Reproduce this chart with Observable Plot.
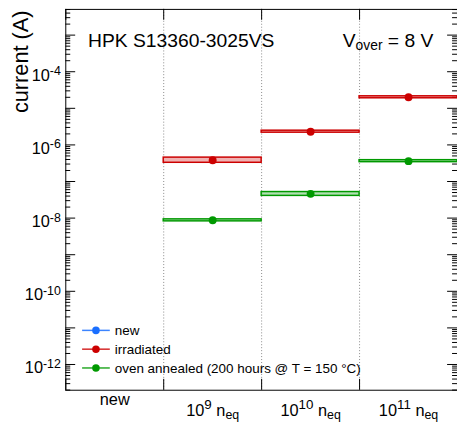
<!DOCTYPE html>
<html>
<head>
<meta charset="utf-8">
<script src="https://cdn.jsdelivr.net/npm/d3@7"></script>
<script src="https://cdn.jsdelivr.net/npm/@observablehq/plot@0.6"></script>
<style>
  html, body { margin: 0; padding: 0; background: #fff; overflow: hidden; }
  #wrap { position: relative; width: 457px; height: 422px; overflow: hidden; }
  svg text { white-space: pre; }
</style>
</head>
<body>
<div id="wrap"></div>
<script>
// ---------- data ----------
const categories = ["new", "10^{9} n_{eq}", "10^{10} n_{eq}", "10^{11} n_{eq}"];
const seriesNames = ["new", "irradiated", "oven annealed (200 hours @ T = 150 °C)"];
const seriesColors = ["#1a6fff", "#cc0000", "#009900"];

const irradiatedCategories = ["10^{9} n_{eq}", "10^{10} n_{eq}", "10^{11} n_{eq}"];
const irradiatedValues = [3.8e-7, 2.3e-6, 2.0e-5];
const irradiatedLow    = [3.25e-7, 2.16e-6, 1.88e-5];
const irradiatedHigh   = [4.5e-7, 2.45e-6, 2.13e-5];

const annealedCategories = ["10^{9} n_{eq}", "10^{10} n_{eq}", "10^{11} n_{eq}"];
const annealedValues = [8.7e-9, 4.6e-8, 3.6e-7];
const annealedLow    = [8.15e-9, 4.05e-8, 3.38e-7];
const annealedHigh   = [9.25e-9, 5.15e-8, 3.83e-7];

const yTickExponents = [-12, -10, -8, -6, -4];
const titleText = "HPK S13360-3025VS";
const voltageText = "V_{over} = 8 V";
const yAxisTitle = "current (A)";

// ---------- layout ----------
const FONT = "'Liberation Sans', Arial, Helvetica, sans-serif";
const W = 462, H = 422, mL = 66, mR = 0, mT = 9, mB = 28;
const plotW = W - mL - mR, plotH = H - mT - mB;
const yDomain = [10 ** -12.703, 10 ** -2.297];
const inDomain = v => v >= yDomain[0] && v <= yDomain[1];
const majorTicks = d3.range(-13, -1).map(e => 10 ** e).filter(inDomain);
const minorTicks = d3.range(-13, -1).flatMap(e => d3.range(2, 10).map(m => m * 10 ** e)).filter(inDomain);

function buildRows(cats, vals, lows, highs, color) {
  return cats.map((c, k) => ({i: categories.indexOf(c), v: vals[k], lo: lows[k], hi: highs[k], color}));
}
const rows = [
  ...buildRows(irradiatedCategories, irradiatedValues, irradiatedLow, irradiatedHigh, seriesColors[1]),
  ...buildRows(annealedCategories, annealedValues, annealedLow, annealedHigh, seriesColors[2])
];
const edges = d3.range(0, categories.length + 1);

const plot = Plot.plot({
  width: W, height: H,
  marginLeft: mL, marginRight: mR, marginTop: mT, marginBottom: mB,
  style: {fontFamily: FONT, background: "#fff", color: "#000", overflow: "visible"},
  x: {type: "linear", domain: [0, categories.length], axis: null},
  y: {type: "log", domain: yDomain, axis: null},
  color: {type: "identity"},
  marks: [
    Plot.ruleX(edges.slice(1, -1), {x: d => d, stroke: "#8a8a8a", strokeDasharray: "1,2"}),
    Plot.ruleX(edges, {x: d => d, insetTop: plotH - 11, stroke: "#000"}),
    Plot.ruleX(edges, {x: d => d, insetBottom: plotH - 11, stroke: "#000"}),
    Plot.ruleY(majorTicks, {y: d => d, insetRight: plotW - 10, stroke: "#000"}),
    Plot.ruleY(minorTicks, {y: d => d, insetRight: plotW - 5, stroke: "#000"}),
    Plot.ruleY(majorTicks, {y: d => d, insetLeft: plotW - 10, stroke: "#000"}),
    Plot.ruleY(minorTicks, {y: d => d, insetLeft: plotW - 5, stroke: "#000"}),
    Plot.rect(rows, {x1: d => d.i, x2: d => d.i + 1, y1: d => d.lo, y2: d => d.hi,
      fill: d => d.color, fillOpacity: 0.3, stroke: d => d.color, strokeWidth: 1.5}),
    Plot.dot(rows, {x: d => d.i + 0.5, y: d => d.v, r: 4, fill: d => d.color, stroke: "none"}),
    Plot.frame({stroke: "#000", strokeWidth: 1}),
    Plot.text(yTickExponents, {y: e => 10 ** e, text: e => `10^{${e}}`, frameAnchor: "left",
      dx: -5, dy: 9, textAnchor: "end", lineAnchor: "bottom", fontSize: 16.5, ariaDescription: "ylabels"}),
    Plot.text(categories, {x: (d, i) => i + 0.5, text: d => d, frameAnchor: "bottom",
      dy: 15, textAnchor: "middle", lineAnchor: "bottom", fontSize: 17, ariaDescription: "xlabels"}),
    Plot.text([titleText], {frameAnchor: "top-left", dx: 22.5, dy: 38, textAnchor: "start",
      lineAnchor: "bottom", fontSize: 19.5, ariaDescription: "rich"}),
    Plot.text([voltageText], {frameAnchor: "top-left", dx: 280, dy: 38, textAnchor: "start",
      lineAnchor: "bottom", fontSize: 19.5, ariaDescription: "rich"}),
    Plot.text([yAxisTitle], {frameAnchor: "top-left", dx: -38, dy: 1, rotate: -90, textAnchor: "end",
      lineAnchor: "bottom", fontSize: 22})
  ]
});

// ---------- rich text (super/subscripts) ----------
const NS = "http://www.w3.org/2000/svg";
function rich(el, size, o) {
  const str = el.textContent;
  const re = /(\^|_)\{([^}]*)\}/g;
  const parts = [];
  let last = 0, m;
  while ((m = re.exec(str))) {
    if (m.index > last) parts.push({t: str.slice(last, m.index), k: 0});
    parts.push({t: m[2], k: m[1] === "^" ? -1 : 1});
    last = re.lastIndex;
  }
  if (last < str.length) parts.push({t: str.slice(last), k: 0});
  const hasSup = parts.some(p => p.k === -1);
  let cur = -((hasSup && o.supBase) || 0);
  el.textContent = "";
  for (const p of parts) {
    const off = p.k === -1 ? -o.supShift : p.k === 1 ? o.subShift : 0;
    const ts = document.createElementNS(NS, "tspan");
    ts.setAttribute("dy", (off - cur).toFixed(2));
    ts.setAttribute("font-size", p.k === -1 ? o.supSize : p.k === 1 ? o.subSize : size);
    ts.textContent = p.t;
    el.appendChild(ts);
    cur = off;
  }
}
function groups(desc) {
  return [...plot.querySelectorAll("g")].filter(n => n.getAttribute("aria-description") === desc);
}
groups("ylabels").forEach(g => g.querySelectorAll("text").forEach(el =>
  rich(el, 16.5, {supSize: 12.5, supShift: 5.5, subSize: 12, subShift: 3})));
groups("xlabels").forEach(g => g.querySelectorAll("text").forEach(el =>
  rich(el, 16.5, {supSize: 13.5, supShift: 7, subSize: 12.5, subShift: 3, supBase: 11})));
groups("rich").forEach(g => g.querySelectorAll("text").forEach(el =>
  rich(el, 19.5, {supSize: 14, supShift: 7, subSize: 14, subShift: 3.5})));

// ---------- legend ----------
const svg = d3.select(plot);
const lg = svg.append("g").attr("font-family", FONT).attr("font-size", 13.6).attr("text-anchor", "start");
seriesNames.forEach((name, k) => {
  const yy = 334 + k * 19;
  lg.append("line").attr("x1", 83).attr("x2", 111).attr("y1", yy).attr("y2", yy)
    .attr("stroke", seriesColors[k]).attr("stroke-width", 1.5).attr("stroke-opacity", 0.85);
  lg.append("circle").attr("cx", 97).attr("cy", yy).attr("r", 3.8).attr("fill", seriesColors[k]);
  lg.append("text").attr("x", 116).attr("y", yy + 4.7).attr("fill", "#000").text(name);
});

document.getElementById("wrap").appendChild(plot);
</script>
</body>
</html>
